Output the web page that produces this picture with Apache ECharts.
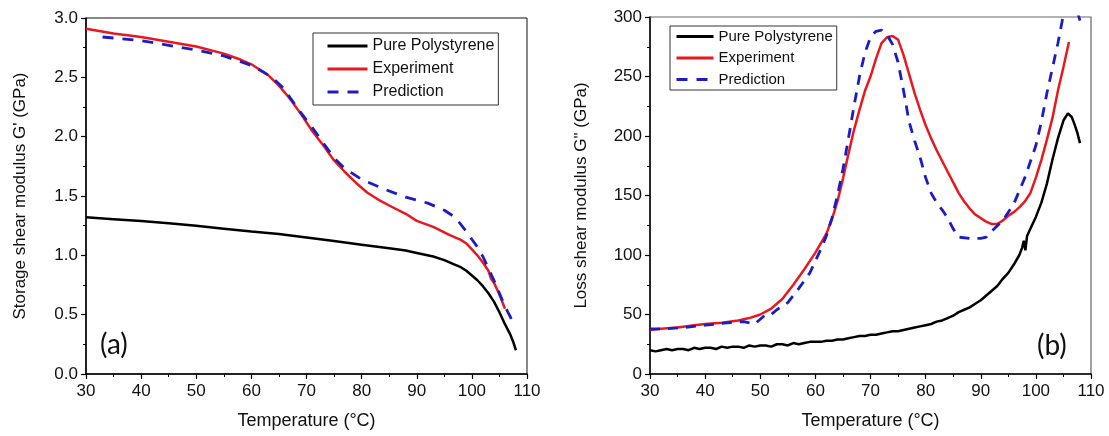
<!DOCTYPE html>
<html><head><meta charset="utf-8">
<script src="https://cdn.jsdelivr.net/npm/echarts@6/dist/echarts.min.js"></script>
<style>html,body{margin:0;padding:0;background:#fff}#c{width:1109px;height:436px}</style>
</head><body><div id="c"></div>
<script>
// ---------- Data ----------
const seriesNames = ['Pure Polystyrene', 'Experiment', 'Prediction'];
const xTicksMin = 30, xTicksMax = 110, xTickStep = 10;

// Panel (a): storage shear modulus G' (GPa)
const aPure = [[30,1.32],[35,1.305],[40,1.29],[45,1.27],[50,1.25],[55,1.225],[60,1.20],[65,1.18],[70,1.15],[75,1.12],[80,1.09],[85,1.06],[88,1.04],[90,1.02],[93,0.99],[95,0.96],[97,0.92],[98,0.90],[99,0.87],[100,0.83],[101,0.79],[102,0.74],[103,0.68],[104,0.61],[105,0.52],[106,0.42],[107,0.33],[107.5,0.27],[108,0.20]];
const aExp = [[30,2.91],[35,2.87],[40,2.84],[45,2.80],[50,2.76],[55,2.70],[58,2.65],[60,2.61],[63,2.52],[65,2.43],[67,2.32],[69,2.19],[71,2.05],[73,1.93],[75,1.80],[77,1.70],[79,1.61],[81,1.53],[83,1.47],[85,1.42],[88,1.35],[90,1.29],[93,1.24],[96,1.17],[98,1.13],[99,1.10],[100,1.05],[101,1.00],[102,0.94],[103,0.87],[103.5,0.80],[104,0.77],[105,0.67],[106,0.55]];
const aPred = [[33,2.84],[40,2.81],[45,2.77],[50,2.73],[55,2.68],[60,2.60],[62,2.55],[64,2.49],[66,2.40],[67,2.33],[69,2.20],[71,2.08],[73,1.95],[75,1.82],[77,1.73],[78,1.70],[80,1.64],[84,1.56],[88,1.49],[92,1.44],[95,1.38],[97,1.32],[99,1.20],[101,1.07],[102,0.99],[103,0.89],[104,0.79],[105,0.68],[106,0.57],[107,0.48],[107.5,0.42]];

// Panel (b): loss shear modulus G" (GPa)
const bPure = [[30,20],[31,19],[32,20],[33,21],[34,20],[35,21],[36,21],[37,20],[38,22],[39,21],[40,22],[41,22],[42,21],[43,23],[44,22],[45,23],[46,23],[47,22],[48,24],[49,23],[50,24],[51,24],[52,23],[53,25],[54,25],[55,24],[56,26],[57,25],[58,26],[59,27],[60,27],[61,27],[62,28],[63,28],[64,29],[65,29],[66,30],[67,31],[68,32],[69,32],[70,33],[71,33],[72,34],[73,35],[74,36],[75,36],[76,37],[77,38],[78,39],[79,40],[80,41],[81,42],[82,44],[83,45],[84,47],[85,49],[86,52],[87,54],[88,56],[89,59],[90,62],[91,66],[92,70],[93,74],[94,80],[95,85],[96,92],[97,100],[97.5,106],[97.8,112],[98.1,104],[98.4,116],[99,122],[100,132],[101,144],[102,160],[103,180],[104,198],[105,213],[105.8,219],[106.5,216],[107,210],[107.5,203],[108,194]];
const bExp = [[30,37],[32,38],[35,39],[38,41],[40,42],[43,43],[46,45],[48,47],[50,50],[52,55],[54,63],[56,75],[58,88],[60,102],[62,118],[63,130],[64,145],[65,164],[66,185],[67,205],[68,222],[69,238],[70,250],[71,265],[72,278],[73,283],[74,284],[75,281],[76,268],[77,252],[78,236],[79,222],[80,209],[81,198],[82,188],[83,179],[84,170],[85,161],[86,152],[87,145],[88,139],[89,134],[90,131],[91,128],[92,126],[93,126],[94,129],[95,133],[96,136],[97,140],[98,145],[99,152],[100,165],[101,180],[102,197],[103,215],[104,238],[105,258],[106,279]];
const bPred = [[30,38],[33,38],[36,39],[40,41],[44,43],[47,44],[49,42],[50,46],[51,50],[52,50],[53,54],[55,60],[57,72],[59,85],[60,95],[61,105],[62,116],[63,131],[64,150],[65,172],[66,198],[67,225],[68,250],[69,270],[70,283],[71,288],[72,289],[73,285],[74,277],[75,262],[76,238],[77,212],[78,196],[79,182],[80,165],[81,152],[82,144],[83,138],[84,131],[85,122],[86,115],[88,114],[90,114],[91,115],[92,120],[94,129],[96,143],[98,165],[100,192],[101,212],[102,236],[103,257],[104,278],[105,302],[106,318],[107,313],[108,297]];

// ---------- Chart ----------
const FONT = '"Liberation Sans", Arial, sans-serif';
const cBlack = '#000000', cRed = '#e8191e', cBlue = '#1c1cc4';

function xAxis(gi) {
  return {
    type: 'value', gridIndex: gi, min: xTicksMin, max: xTicksMax, interval: xTickStep,
    name: 'Temperature (°C)', nameLocation: 'middle', nameGap: 38,
    nameTextStyle: { fontFamily: FONT, fontSize: 18, color: '#111' },
    axisLine: { show: true, onZero: false, lineStyle: { color: '#000', width: 1.5 } },
    axisTick: { show: true, inside: false, length: 5, lineStyle: { color: '#000', width: 1.2 } },
    minorTick: { show: true, splitNumber: 2, length: 3, lineStyle: { color: '#000', width: 1 } },
    axisLabel: { fontFamily: FONT, fontSize: 17, color: '#111', margin: 9 },
    splitLine: { show: false }
  };
}
function yAxis(gi, name, min, max, interval, fmt, gap) {
  return {
    type: 'value', gridIndex: gi, min: min, max: max, interval: interval,
    name: name, nameLocation: 'middle', nameGap: gap,
    nameTextStyle: { fontFamily: FONT, fontSize: 17, color: '#111' },
    axisLine: { show: true, onZero: false, lineStyle: { color: '#000', width: 1.5 } },
    axisTick: { show: true, inside: false, length: 5, lineStyle: { color: '#000', width: 1.2 } },
    minorTick: { show: true, splitNumber: 2, length: 3, lineStyle: { color: '#000', width: 1 } },
    axisLabel: { fontFamily: FONT, fontSize: 17, color: '#111', margin: 8, formatter: fmt },
    splitLine: { show: false }
  };
}
function line(name, data, gi, color, width, dash) {
  return {
    name: name, type: 'line', xAxisIndex: gi, yAxisIndex: gi, data: data,
    showSymbol: false, symbol: 'none', smooth: false, clip: true, animation: false,
    lineStyle: { color: color, width: width, type: dash || 'solid' },
    itemStyle: { color: color }
  };
}

const chart = echarts.init(document.getElementById('c'), null, { renderer: 'canvas' });
chart.setOption({
  backgroundColor: '#fff',
  animation: false,
  grid: [
    { left: 86, right: 582, top: 18, bottom: 62, show: true, borderColor: '#111', borderWidth: 1, backgroundColor: 'transparent' },
    { left: 650, right: 18, top: 17, bottom: 62, show: true, borderColor: '#666', borderWidth: 1.2, backgroundColor: 'transparent' }
  ],
  xAxis: [xAxis(0), xAxis(1)],
  yAxis: [
    yAxis(0, "Storage shear modulus G' (GPa)", 0, 3, 0.5, v => v.toFixed(1), 57),
    yAxis(1, 'Loss shear modulus G" (GPa)', 0, 300, 50, v => String(v), 60)
  ],
  legend: [
    { left: 313, top: 33, orient: 'vertical', data: seriesNames.slice(),
      itemWidth: 40, itemHeight: 14, itemGap: 7,
      padding: [5, 4, 5, 13], borderColor: '#333', borderWidth: 1, backgroundColor: '#fff',
      itemStyle: { opacity: 0 }, lineStyle: { width: 3 },
      textStyle: { fontFamily: FONT, fontSize: 16, color: '#111' }, selectedMode: false },
    { left: 670, top: 26, orient: 'vertical', data: seriesNames.slice(),
      itemWidth: 37, itemHeight: 13, itemGap: 6.5, padding: [3, 4, 3, 5], borderColor: '#333', borderWidth: 1,
      backgroundColor: '#fff', itemStyle: { opacity: 0 }, lineStyle: { width: 3 },
      textStyle: { fontFamily: FONT, fontSize: 15, color: '#111' }, selectedMode: false }
  ],
  graphic: [
    { type: 'text', left: 100, top: 331, style: { text: '(a)', fontFamily: 'Lato, "Open Sans", sans-serif', fontSize: 28, fill: '#111' } },
    { type: 'text', left: 1037, top: 332, style: { text: '(b)', fontFamily: 'Lato, "Open Sans", sans-serif', fontSize: 28, fill: '#111' } }
  ],
  series: [
    line(seriesNames[0], aPure, 0, cBlack, 2.5),
    line(seriesNames[1], aExp, 0, cRed, 2.5),
    line(seriesNames[2], aPred, 0, cBlue, 2.8, [11, 9]),
    line(seriesNames[0], bPure, 1, cBlack, 2.5),
    line(seriesNames[1], bExp, 1, cRed, 2.5),
    line(seriesNames[2], bPred, 1, cBlue, 2.8, [10, 8])
  ]
});
</script></body></html>
